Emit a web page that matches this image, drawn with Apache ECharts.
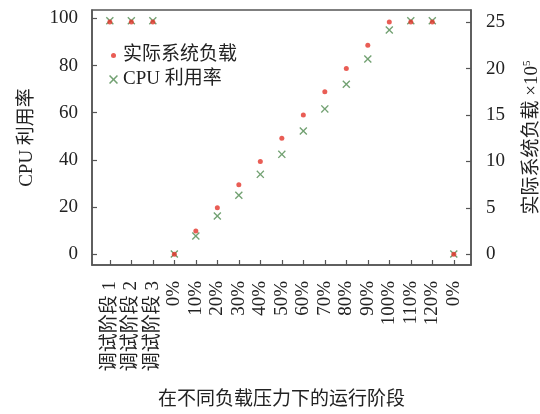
<!DOCTYPE html>
<html>
<head>
<meta charset="utf-8">
<script src="https://cdn.jsdelivr.net/npm/echarts@6/dist/echarts.min.js"></script>
<style>
  html, body { margin: 0; padding: 0; background: #fff; }
  #chart { width: 540px; height: 414px; }
</style>
</head>
<body>
<div id="chart"></div>
<script>
// Run stages: three tuning stages, then load steps from 0% to 120%, then back to 0%
const stages = ['调试阶段 1', '调试阶段 2', '调试阶段 3', '0%', '10%', '20%', '30%', '40%', '50%', '60%',
  '70%', '80%', '90%', '100%', '110%', '120%', '0%'];
// Actual system load (×10^5), right axis
const systemLoad = [25, 25, 25, 0, 2.5, 5, 7.5, 10, 12.5, 15, 17.5, 20, 22.5, 25, 25, 25, 0];
// CPU utilisation (%), left axis
const cpuUsage = [99, 99, 99, 0, 7.6, 16.1, 24.9, 33.8, 42.3, 52.2, 61.6, 72.1, 82.8, 95.1, 99, 99, 0];
const leftTicks = [0, 20, 40, 60, 80, 100];
const rightTicks = [0, 5, 10, 15, 20, 25];

const stageIdx = stages.map((_, i) => i);
const FONT = '"Liberation Serif", "Times New Roman", "Noto Sans CJK SC", serif';
const TXT = '#222';
const LINE = '#555';
const RED = '#e3342b';
const GREEN = '#4f8a4f';
const CROSS = 'path://M0,1.2L1.2,0L5,3.8L8.8,0L10,1.2L6.2,5L10,8.8L8.8,10L5,6.2L1.2,10L0,8.8L3.8,5Z';

const chart = echarts.init(document.getElementById('chart'), null, { renderer: 'canvas' });

chart.setOption({
  animation: false,
  backgroundColor: '#fff',
  textStyle: { fontFamily: FONT, color: TXT },
  grid: {
    left: 92, right: 69, top: 10, bottom: 149,
    outerBoundsMode: 'none', containLabel: false,
    show: true, borderColor: LINE, borderWidth: 1.5, backgroundColor: 'transparent'
  },
  legend: [
    {
      data: ['实际系统负载'], orient: 'vertical', left: 106, top: 41,
      itemWidth: 5, itemHeight: 5, icon: 'circle',
      textStyle: { fontFamily: FONT, fontSize: 19, color: TXT, padding: [0, 0, 0, 2] }
    },
    {
      data: ['CPU 利用率'], orient: 'vertical', left: 104, top: 65,
      itemWidth: 9, itemHeight: 9, icon: CROSS,
      textStyle: { fontFamily: FONT, fontSize: 19, color: TXT }
    }
  ],
  xAxis: {
    type: 'value', min: -0.83, max: 16.8,
    name: '在不同负载压力下的运行阶段', nameLocation: 'middle', nameGap: 126,
    nameTextStyle: { fontFamily: FONT, fontSize: 19, color: TXT },
    splitLine: { show: false },
    axisLine: { show: true, onZero: false, lineStyle: { color: LINE, width: 1.5 } },
    axisTick: { show: true, inside: true, length: 5, customValues: stageIdx, lineStyle: { color: LINE, width: 1.2 } },
    axisLabel: {
      customValues: stageIdx, rotate: 90, margin: 16,
      fontFamily: FONT, fontSize: 19, color: TXT,
      formatter: v => stages[Math.round(v)]
    }
  },
  yAxis: [
    {
      type: 'value', min: -4.7, max: 103.6, position: 'left',
      name: 'CPU 利用率', nameLocation: 'middle', nameGap: 55, nameRotate: 90,
      nameTextStyle: { fontFamily: FONT, fontSize: 19, color: TXT },
      splitLine: { show: false },
      axisLine: { show: true, onZero: false, lineStyle: { color: LINE, width: 1.5 } },
      axisTick: { show: true, inside: true, length: 5, customValues: leftTicks, lineStyle: { color: LINE, width: 1.2 } },
      axisLabel: { customValues: leftTicks, margin: 14, fontFamily: FONT, fontSize: 19, color: TXT }
    },
    {
      type: 'value', min: -1.15, max: 26.3, position: 'right',
      name: '实际系统负载 ×10{sup|5}', nameLocation: 'middle', nameGap: 51, nameRotate: 90,
      nameTextStyle: {
        fontFamily: FONT, fontSize: 19, color: TXT,
        rich: { sup: { fontFamily: FONT, fontSize: 11, color: TXT, verticalAlign: 'top', padding: [0, 0, 9, 0] } }
      },
      splitLine: { show: false },
      axisLine: { show: true, onZero: false, lineStyle: { color: LINE, width: 1.5 } },
      axisTick: { show: true, inside: true, length: 5, customValues: rightTicks, lineStyle: { color: LINE, width: 1.2 } },
      axisLabel: { customValues: rightTicks, margin: 15, fontFamily: FONT, fontSize: 19, color: TXT }
    }
  ],
  series: [
    {
      name: 'CPU 利用率', type: 'scatter', yAxisIndex: 0,
      symbol: CROSS, symbolSize: 8,
      itemStyle: { color: GREEN },
      data: cpuUsage.map((v, i) => [i, v]),
      z: 2
    },
    {
      name: '实际系统负载', type: 'scatter', yAxisIndex: 1,
      symbol: 'circle', symbolSize: 5,
      itemStyle: { color: RED },
      data: systemLoad.map((v, i) => [i, v]),
      z: 3
    }
  ]
});
</script>
</body>
</html>
